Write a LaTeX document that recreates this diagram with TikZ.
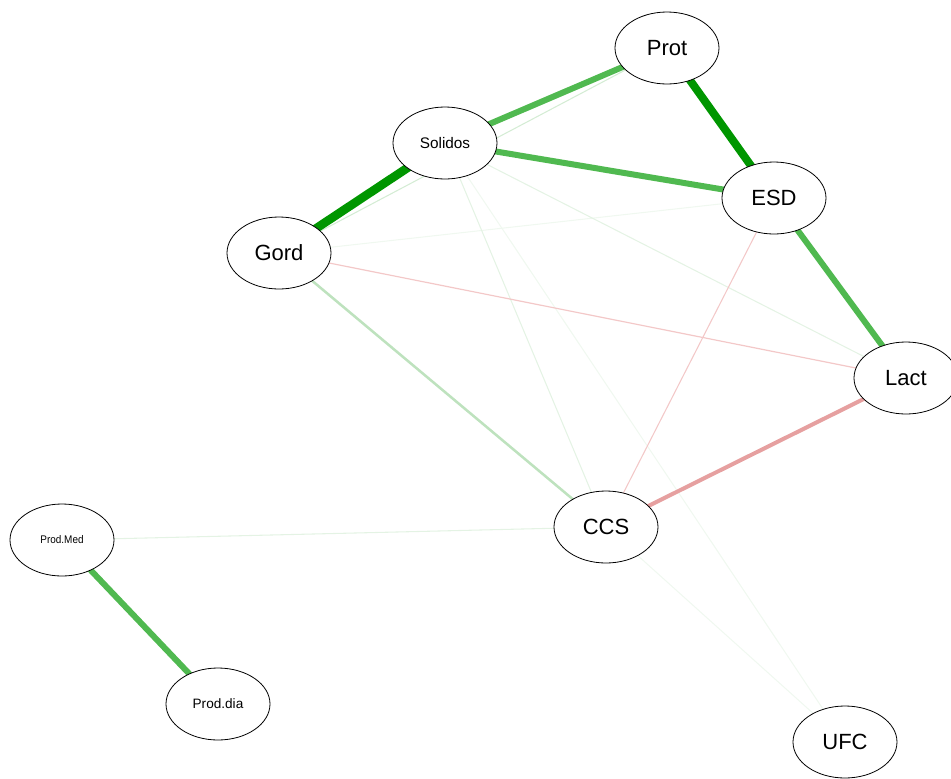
\documentclass[tikz,border=0pt]{standalone}
\usepackage{fontspec}
\setmainfont{Liberation Sans}
\usetikzlibrary{shapes.geometric}
\pgfdeclarelayer{background}
\pgfsetlayers{background,main}
\definecolor{darkg}{RGB}{0,150,0}
\definecolor{midg}{RGB}{80,185,80}
\definecolor{lightg}{RGB}{190,226,190}
\definecolor{paleg}{RGB}{212,236,212}
\definecolor{faintg}{RGB}{228,243,228}
\definecolor{veryfaintg}{RGB}{240,248,240}
\definecolor{faintr}{RGB}{243,200,200}
\definecolor{midr}{RGB}{230,160,160}
\tikzset{
  vnode/.style={ellipse,draw=black,line width=0.6pt,fill=white,minimum width=78pt,minimum height=54pt,inner sep=0pt,text=black},
  bigl/.style={font=\fontsize{16.5}{18}\selectfont},
  edge/.style={line cap=butt}
}
\begin{document}
\begin{tikzpicture}[x=0.75pt,y=-0.75pt]
\useasboundingbox (0,0) rectangle (951,779);
\node[vnode,bigl] (prot) at (667,48) {Prot};
\node[vnode,font=\fontsize{11.5}{13}\selectfont] (sol) at (445,143) {Solidos};
\node[vnode,bigl] (esd) at (774,198) {ESD};
\node[vnode,bigl] (gord) at (279,253) {Gord};
\node[vnode,bigl] (lact) at (906,378) {Lact};
\node[vnode,bigl] (ccs) at (606,527) {CCS};
\node[vnode,font=\fontsize{8.3}{10}\selectfont] (pmed) at (62,540) {\addfontfeature{FakeStretch=0.9}Prod.Med};
\node[vnode,font=\fontsize{10.2}{12}\selectfont] (pdia) at (218,704) {Prod.dia};
\node[vnode,bigl] (ufc) at (845,742) {UFC};
\begin{pgfonlayer}{background}
  % faint edges
  \draw[edge,veryfaintg,line width=0.8pt] (ccs.center) -- (ufc.center);
  \draw[edge,veryfaintg,line width=0.8pt] (sol.center) -- (ufc.center);
  \draw[edge,veryfaintg,line width=0.8pt] (gord.center) -- (esd.center);
  \draw[edge,faintg,line width=0.8pt] (sol.center) -- (ccs.center);
  \draw[edge,faintg,line width=0.8pt] (sol.center) -- (lact.center);
  \draw[edge,faintg,line width=0.8pt] (pmed.center) -- (ccs.center);
  \draw[edge,paleg,line width=0.8pt] (gord.center) -- (prot.center);
  \draw[edge,faintr,line width=0.8pt] (esd.center) -- (ccs.center);
  \draw[edge,faintr,line width=0.9pt] (gord.center) -- (lact.center);
  % stronger edges
  \draw[edge,lightg,line width=1.9pt] (gord.center) -- (ccs.center);
  \draw[edge,midr,line width=3pt] (lact.center) -- (ccs.center);
  \draw[edge,midg,line width=4.5pt] (sol.center) -- (prot.center);
  \draw[edge,midg,line width=4.5pt] (sol.center) -- (esd.center);
  \draw[edge,midg,line width=4.5pt] (esd.center) -- (lact.center);
  \draw[edge,midg,line width=4.5pt] (pmed.center) -- (pdia.center);
  \draw[edge,darkg,line width=6pt] (prot.center) -- (esd.center);
  \draw[edge,darkg,line width=6.5pt] (sol.center) -- (gord.center);
\end{pgfonlayer}
\end{tikzpicture}
\end{document}
